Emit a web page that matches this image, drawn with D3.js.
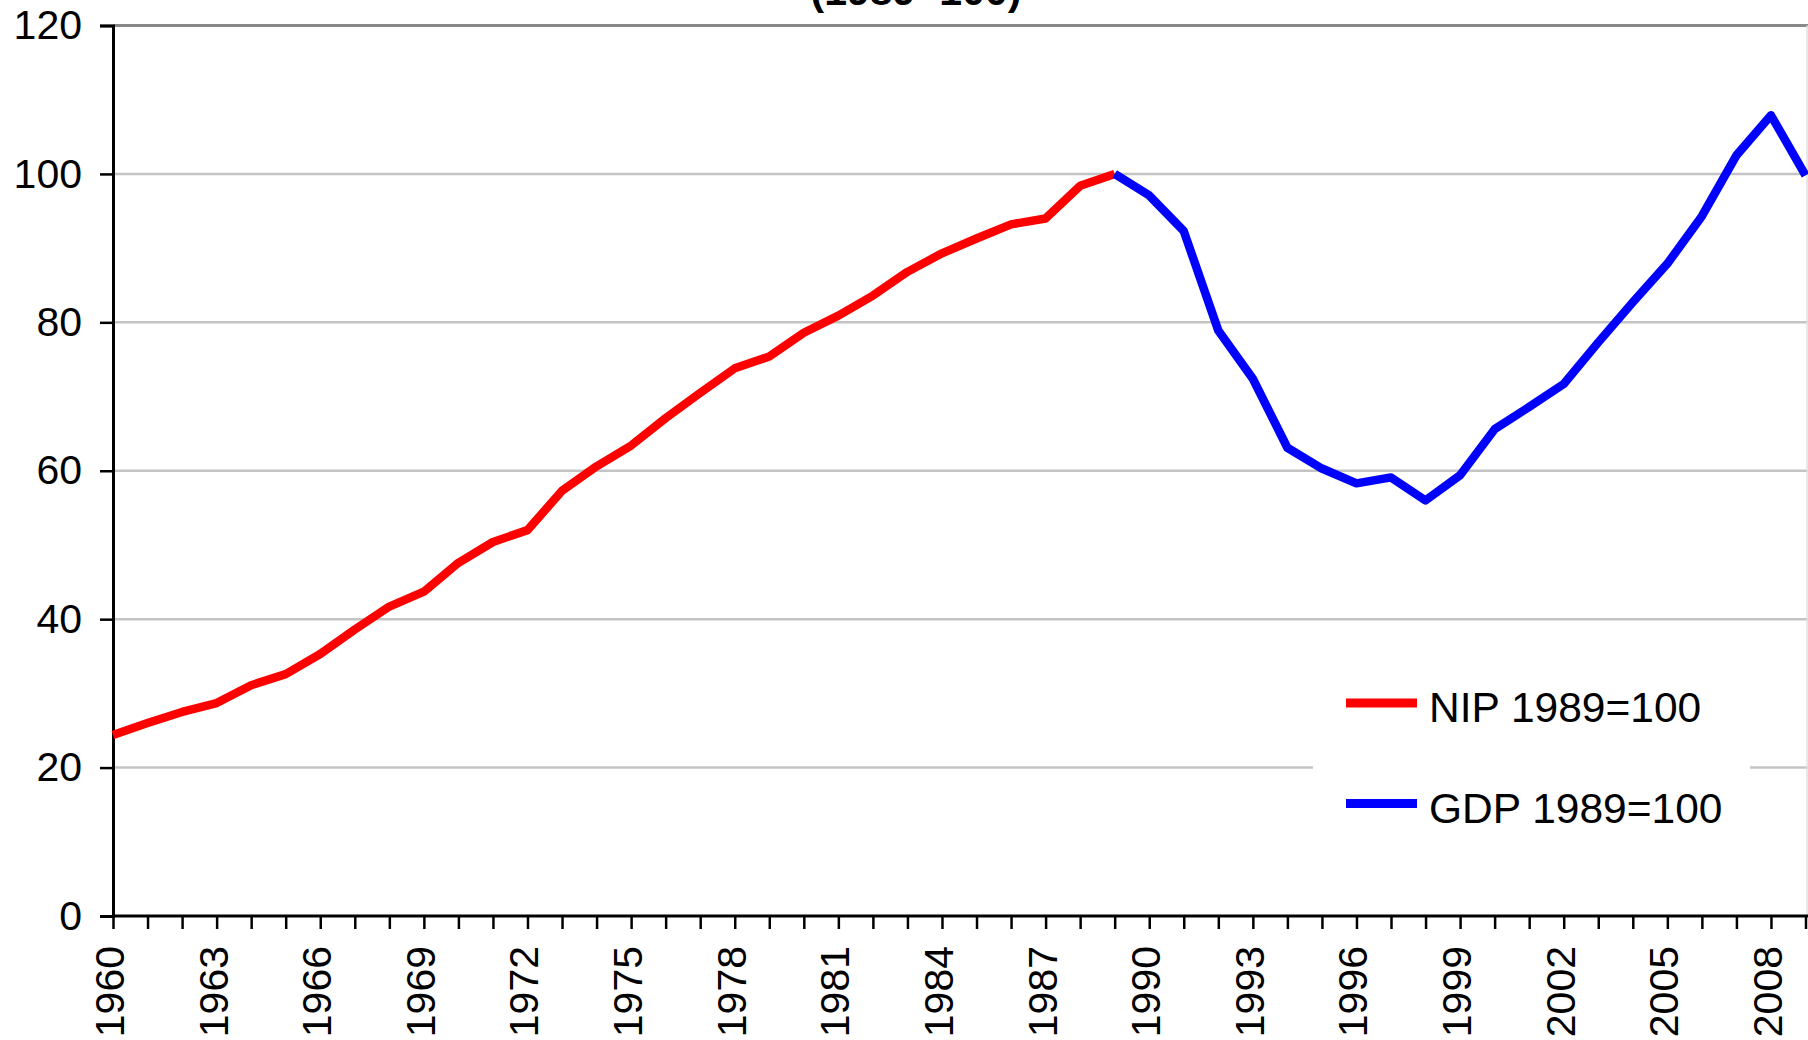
<!DOCTYPE html>
<html>
<head>
<meta charset="utf-8">
<script src="https://cdn.jsdelivr.net/npm/d3@7"></script>
<style>
  html, body { margin: 0; padding: 0; background: #fff; }
  svg { display: block; }
  text { font-family: "Liberation Sans", Arial, sans-serif; fill: #000; }
</style>
</head>
<body>
<svg id="chart" width="1808" height="1040"></svg>
<script>
// ---- data ----
const years = d3.range(1960, 2010);
const nipYears = d3.range(1960, 1990);
const nipValues = [24.4, 26.0, 27.5, 28.7, 31.1, 32.6, 35.3, 38.6, 41.7, 43.7,
                   47.6, 50.4, 52.0, 57.3, 60.6, 63.4, 67.1, 70.5, 73.8, 75.4,
                   78.6, 80.9, 83.6, 86.8, 89.3, 91.3, 93.2, 94.0, 98.4, 100.0];
const gdpYears = d3.range(1989, 2010);
const gdpValues = [100.0, 97.1, 92.3, 78.9, 72.4, 63.1, 60.3, 58.3, 59.1, 56.0,
                   59.4, 65.6, 68.6, 71.7, 77.3, 82.7, 87.9, 94.3, 102.5, 107.9, 99.8];
const yTicks = [0, 20, 40, 60, 80, 100, 120];
const xLabelYears = years.filter(y => (y - 1960) % 3 === 0);
const chartTitle = "(1989=100)";
const seriesNames = ["NIP 1989=100", "GDP 1989=100"];
const seriesColors = ["#ff0000", "#0000ff"];

// ---- layout ----
const svg = d3.select("#chart");
const padL = 113, padR = 1805.5, padT = 25.5, padB = 916;

const x = d3.scalePoint().domain(years).range([padL, padR]);
const y = d3.scaleLinear().domain([0, 120]).range([padB, padT]);

// title (partially cut off at top, as in the original)
svg.append("text")
  .attr("x", 916).attr("y", 5)
  .attr("text-anchor", "middle")
  .attr("font-size", 41).attr("font-weight", "bold")
  .text(chartTitle);

// gridlines
svg.append("g").selectAll("line")
  .data(yTicks.filter(t => t > 0))
  .join("line")
  .attr("x1", padL).attr("x2", 1808)
  .attr("y1", d => y(d)).attr("y2", d => y(d))
  .attr("stroke", d => d === 120 ? "#888888" : "#c4c4c4")
  .attr("stroke-width", d => d === 120 ? 3 : 2.5);

// right plot border
svg.append("line")
  .attr("x1", 1807).attr("x2", 1807).attr("y1", padT).attr("y2", padB)
  .attr("stroke", "#e0e0e0").attr("stroke-width", 1.5);

// y axis
const yAxis = svg.append("g")
  .attr("transform", `translate(${padL},0)`)
  .call(d3.axisLeft(y).tickValues(yTicks).tickSize(13).tickPadding(18).tickFormat(d3.format("d")));
yAxis.select(".domain").attr("stroke", "#000").attr("stroke-width", 3);
yAxis.selectAll(".tick line").attr("stroke", "#000").attr("stroke-width", 2.5);
yAxis.selectAll(".tick text")
  .attr("font-size", 41)
  .attr("font-family", "Liberation Sans, Arial, sans-serif")
  .attr("fill", "#000");

// x axis
const xAxis = svg.append("g")
  .attr("transform", `translate(0,${padB})`)
  .call(d3.axisBottom(x).tickSize(13).tickSizeOuter(0).tickFormat(d => xLabelYears.includes(d) ? d : ""));
xAxis.select(".domain").attr("stroke", "#000").attr("stroke-width", 3)
  .attr("d", `M${padL},0H1808`);
xAxis.selectAll(".tick line").attr("stroke", "#000").attr("stroke-width", 2.5);
xAxis.selectAll(".tick text")
  .attr("font-size", 41)
  .attr("font-family", "Liberation Sans, Arial, sans-serif")
  .attr("fill", "#000")
  .attr("text-anchor", "end")
  .attr("dy", null)
  .attr("transform", "rotate(-90)")
  .attr("x", -30)
  .attr("y", 10.5);

// lines
const line = d3.line().x(d => x(d[0])).y(d => y(d[1]));
svg.append("path")
  .datum(nipYears.map((yr, i) => [yr, nipValues[i]]))
  .attr("d", line)
  .attr("fill", "none").attr("stroke", seriesColors[0])
  .attr("stroke-width", 8.5).attr("stroke-linejoin", "round");
svg.append("path")
  .datum(gdpYears.map((yr, i) => [yr, gdpValues[i]]))
  .attr("d", line)
  .attr("fill", "none").attr("stroke", seriesColors[1])
  .attr("stroke-width", 8.5).attr("stroke-linejoin", "round");

// legend
const lg = svg.append("g");
lg.append("rect")
  .attr("x", 1313).attr("y", 655).attr("width", 437).attr("height", 200)
  .attr("fill", "#fff");
const items = lg.selectAll("g.item").data(seriesNames).join("g")
  .attr("class", "item")
  .attr("transform", (d, i) => `translate(0,${703 + i * 100.5})`);
items.append("line")
  .attr("x1", 1346).attr("x2", 1417).attr("y1", 0).attr("y2", 0)
  .attr("stroke", (d, i) => seriesColors[i]).attr("stroke-width", 9);
items.append("text")
  .attr("x", 1429).attr("y", 19)
  .attr("font-size", 42.5)
  .text(d => d);
</script>
</body>
</html>
